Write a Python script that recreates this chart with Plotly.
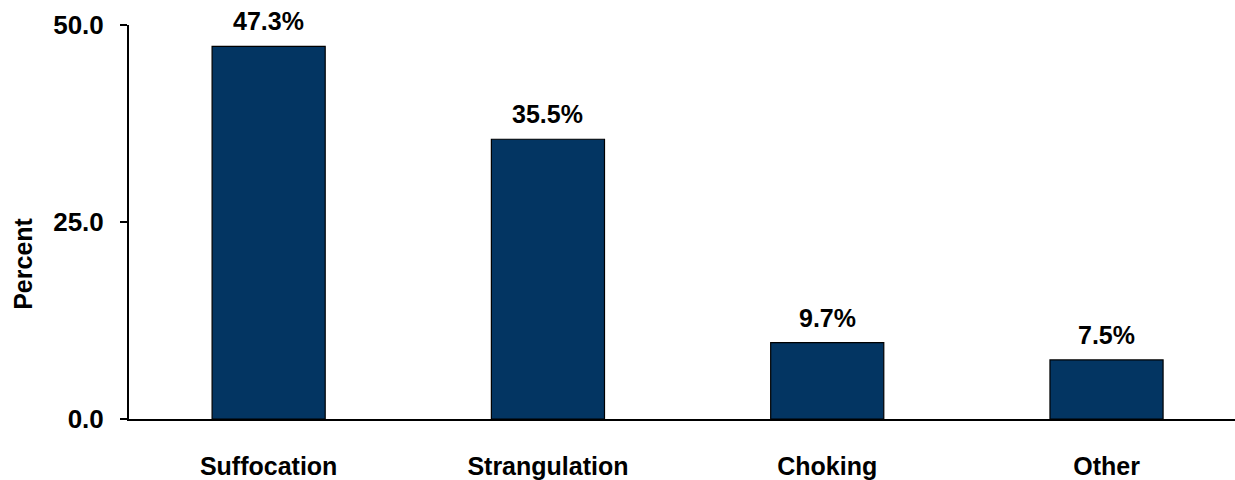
import plotly.graph_objects as go

categories = ["Suffocation", "Strangulation", "Choking", "Other"]
percent = [47.3, 35.5, 9.7, 7.5]
y_ticks = [0, 25, 50]
y_tick_labels = ["0.0", "25.0", "50.0"]

FONT = "Liberation Sans, Arial, sans-serif"
BAR_COLOR = "#033562"

fig = go.Figure(
    go.Bar(
        x=list(range(len(categories))),
        y=percent,
        width=0.405,
        marker=dict(color=BAR_COLOR, line=dict(color="#000000", width=1.2)),
        hoverinfo="skip",
    )
)

# value labels above each bar
for i, v in enumerate(percent):
    fig.add_annotation(
        x=i, y=v, text=f"<b>{v:.1f}%</b>", showarrow=False,
        yanchor="bottom", yshift=9,
        font=dict(family=FONT, size=25, color="#000000"),
    )

# vertical axis title, set low beside the axis
fig.add_annotation(
    xref="paper", yref="paper", x=-0.0958, y=0.394,
    text="<b>Percent</b>", textangle=-90, showarrow=False,
    xanchor="center", yanchor="middle",
    font=dict(family=FONT, size=25, color="#000000"),
)

fig.update_layout(
    width=1235, height=480,
    margin=dict(l=129, r=0, t=25, b=54),
    paper_bgcolor="white", plot_bgcolor="white",
    showlegend=False,
    font=dict(family=FONT, color="#000000"),
)

fig.update_xaxes(
    range=[-0.5, 3.46],
    tickmode="array",
    tickvals=list(range(len(categories))),
    ticktext=[f"<b>{c}</b>" for c in categories],
    tickfont=dict(family=FONT, size=25, color="#000000"),
    ticks="", ticklabelstandoff=24,
    showline=True, linecolor="#000000", linewidth=2,
    showgrid=False, zeroline=False,
)

fig.update_yaxes(
    range=[0, 50],
    tickmode="array",
    tickvals=y_ticks,
    ticktext=[f"<b>{t}</b>" for t in y_tick_labels],
    tickfont=dict(family=FONT, size=26, color="#000000"),
    ticks="outside", ticklen=7, tickwidth=2, tickcolor="#000000",
    ticklabelstandoff=11,
    showline=True, linecolor="#000000", linewidth=2,
    showgrid=False, zeroline=False,
)

fig.write_html("out.html")
